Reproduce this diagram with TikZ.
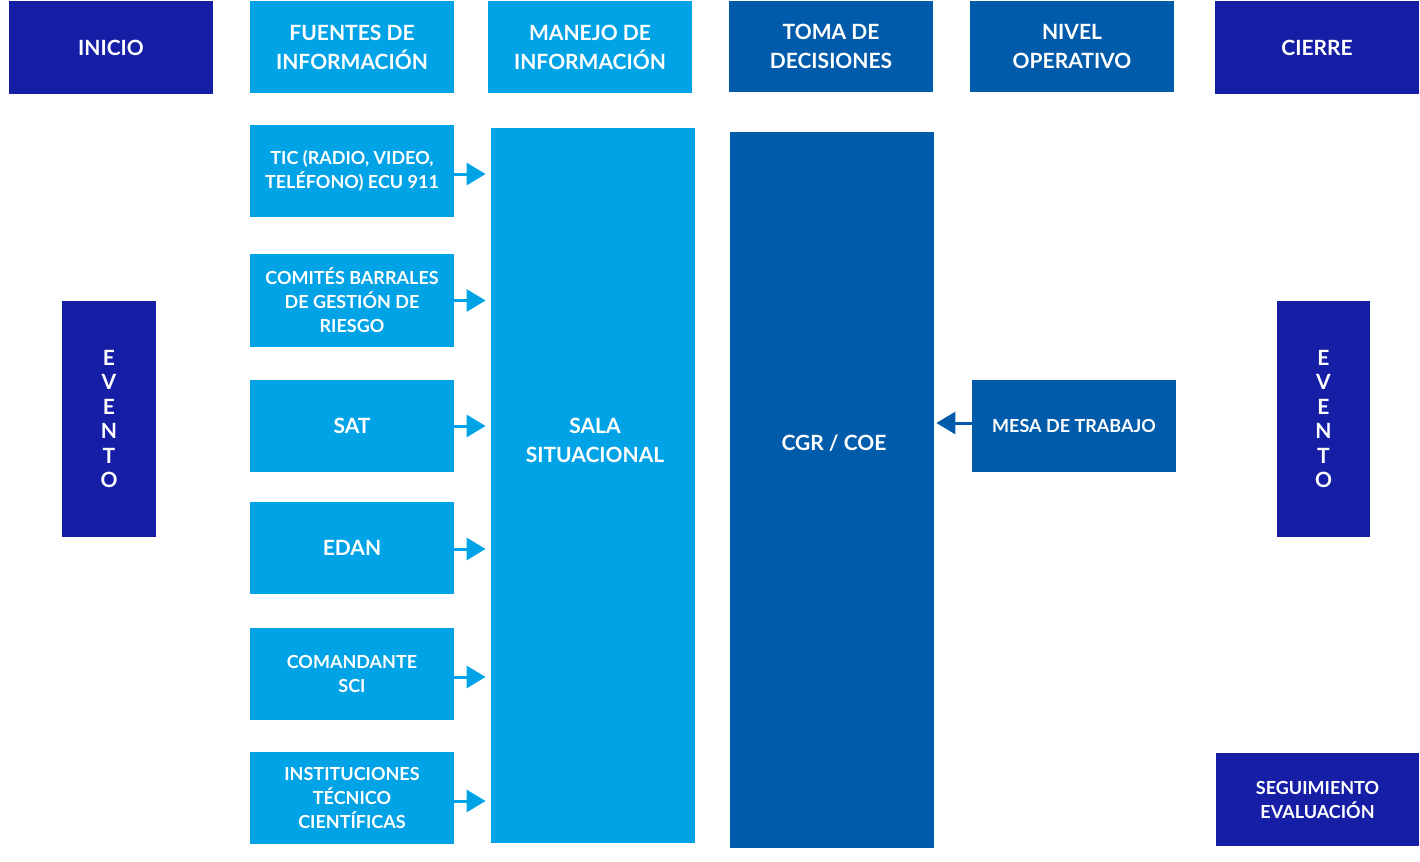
\documentclass[tikz,border=0pt]{standalone}
\usepackage{fontspec}
\setmainfont{Lato}
\usetikzlibrary{arrows.meta}
\definecolor{dblue}{HTML}{161EA5}
\definecolor{lblue}{HTML}{00A3E6}
\definecolor{mblue}{HTML}{005BAA}
\tikzset{
  box/.style={fill=#1, draw=none, text=white, inner sep=0pt, align=center, font=\bfseries\fontsize{10.5}{14.5}\selectfont},
  small/.style={font=\bfseries\fontsize{9}{12}\selectfont},
  arr/.style={draw=#1, line width=1.5pt, -{Triangle[length=9.5pt,width=11pt]}},
}
\newcommand{\bx}[7]{\node[box=#5,#6, minimum width={(#3-#1)*0.5pt}, minimum height={(#4-#2)*0.5pt}] (#7) at ({(#1+#3)/2},{(#2+#4)/2}) {};}
\begin{document}
\begin{tikzpicture}[x=0.5pt,y=-0.5pt]
\useasboundingbox (0,0) rectangle (1420,862);
% headers
\node[box=dblue, minimum width=102pt, minimum height=46.5pt] (inicio) at (111,47.5) {INICIO};
\node[box=lblue, minimum width=102pt, minimum height=46pt] (fuentes) at (352,47) {FUENTES DE\\INFORMACIÓN};
\node[box=lblue, minimum width=102pt, minimum height=46pt] (manejo) at (590,47) {MANEJO DE\\INFORMACIÓN};
\node[box=mblue, minimum width=102pt, minimum height=45.5pt] (toma) at (831,46.5) {TOMA DE\\DECISIONES};
\node[box=mblue, minimum width=102pt, minimum height=45.5pt] (nivel) at (1072,46.5) {NIVEL\\OPERATIVO};
\node[box=dblue, minimum width=102pt, minimum height=46.5pt] (cierre) at (1317,47.5) {CIERRE};
% sources
\node[box=lblue, small, minimum width=102pt, minimum height=46pt] (tic) at (352,171) {TIC (RADIO, VIDEO,\\TELÉFONO) ECU 911};
\node[box=lblue, small, minimum width=102pt, minimum height=46.5pt] (comites) at (352,300.5) {COMITÉS BARRALES\\DE GESTIÓN DE\\RIESGO};
\node[box=lblue, minimum width=102pt, minimum height=46pt] (sat) at (352,426) {SAT};
\node[box=lblue, minimum width=102pt, minimum height=46pt] (edan) at (352,548) {EDAN};
\node[box=lblue, small, minimum width=102pt, minimum height=46pt] (comandante) at (352,674) {COMANDANTE\\SCI};
\node[box=lblue, small, minimum width=102pt, minimum height=46pt] (inst) at (352,798) {INSTITUCIONES\\TÉCNICO\\CIENTÍFICAS};
% big columns
\node[box=lblue, minimum width=102pt, minimum height=357.5pt] (sala) at (593,485.5) {};
\node[box=lblue] at (595,440) {SALA\\SITUACIONAL};
\node[box=mblue, minimum width=102pt, minimum height=358pt] (cgr) at (832,490) {};
\node[box=mblue] at (834,443) {CGR / COE};
\node[box=mblue, small, minimum width=102pt, minimum height=46pt] (mesa) at (1074,426) {MESA DE TRABAJO};
% evento
\node[box=dblue, minimum width=47pt, minimum height=118pt, font=\bfseries\fontsize{10.5}{12.2}\selectfont] (ev1) at (109,419) {E\\V\\E\\N\\T\\O};
\node[box=dblue, minimum width=46.5pt, minimum height=118pt, font=\bfseries\fontsize{10.5}{12.2}\selectfont] (ev2) at (1323.5,419) {E\\V\\E\\N\\T\\O};
\node[box=dblue, small, minimum width=101.5pt, minimum height=46.5pt] (seg) at (1317.5,799.5) {SEGUIMIENTO\\EVALUACIÓN};
% arrows
\foreach \n/\dy in {tic/3,comites/0,sat/0,edan/1,comandante/3,inst/3}{
  \draw[arr=lblue, shorten >=2.5pt] ([yshift=-\dy*0.5pt]\n.east) -- ([yshift=-\dy*0.5pt]\n.east -| sala.west);
}
\draw[arr=mblue, shorten >=1pt] ([yshift=1.5pt]mesa.west) -- ([yshift=1.5pt]mesa.west -| cgr.east);
\end{tikzpicture}
\end{document}
